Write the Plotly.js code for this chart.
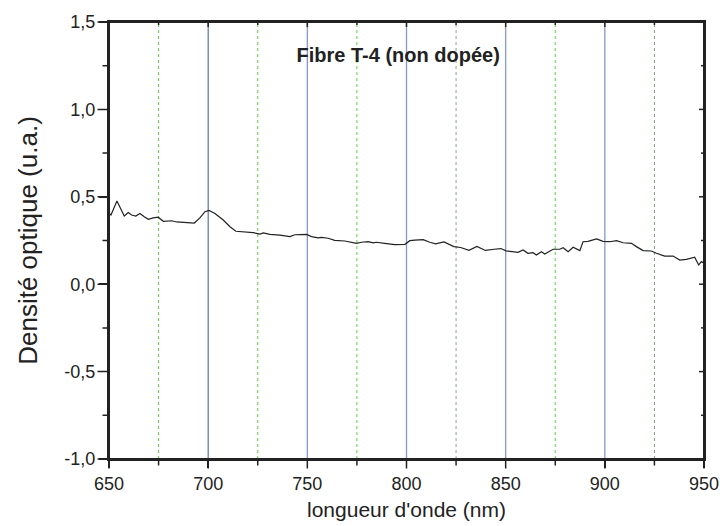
<!DOCTYPE html>
<html>
<head>
<meta charset="utf-8">
<script src="https://cdn.plot.ly/plotly-3.0.1.min.js"></script>
<style>html,body{margin:0;padding:0;background:#fff;}#chart{width:720px;height:526px;}</style>
</head>
<body>
<div id="chart"></div>
<script>
// Wavelength (nm) and optical density (a.u.)
const wavelength = [650, 651, 654, 655.5, 657.7, 659.7, 661.4, 663.5, 665.6, 667.8, 669.8, 672.3, 674.8, 677.4, 679.6, 681.6, 684.1, 688.3, 693, 695.8, 698.4, 700.4, 702.5, 703.4, 707.6, 711, 714, 717.7, 722.7, 726.1, 727.8, 731.1, 736.2, 741.2, 743.7, 749.6, 752.1, 755.5, 757.1, 760.5, 763.8, 768.9, 772.3, 774.8, 777.3, 780.6, 783.2, 784.9, 789, 794.1, 799.2, 801.7, 804.2, 808.4, 811.8, 814.7, 818.9, 823.9, 827.3, 831.5, 835.5, 839.8, 844.2, 847.6, 850.2, 856.2, 858.8, 861.2, 863.8, 865.5, 868, 869.7, 873.9, 877.3, 879, 881.5, 884, 887.4, 889, 891.5, 895.8, 899.1, 902.5, 905.9, 909.2, 913.4, 915.9, 919.3, 923.5, 926, 930.2, 934.4, 937.8, 941.1, 945.3, 947.3, 948.7, 950];
const density = [0.406, 0.396, 0.476, 0.443, 0.390, 0.410, 0.396, 0.390, 0.405, 0.386, 0.371, 0.379, 0.383, 0.360, 0.363, 0.363, 0.356, 0.354, 0.350, 0.379, 0.415, 0.422, 0.413, 0.405, 0.367, 0.329, 0.303, 0.299, 0.295, 0.287, 0.293, 0.285, 0.281, 0.272, 0.283, 0.285, 0.272, 0.265, 0.268, 0.263, 0.251, 0.247, 0.241, 0.234, 0.240, 0.243, 0.236, 0.240, 0.234, 0.226, 0.228, 0.249, 0.252, 0.255, 0.240, 0.231, 0.242, 0.215, 0.210, 0.194, 0.216, 0.193, 0.200, 0.204, 0.191, 0.182, 0.196, 0.177, 0.180, 0.167, 0.186, 0.173, 0.200, 0.200, 0.209, 0.186, 0.211, 0.192, 0.243, 0.245, 0.259, 0.245, 0.243, 0.249, 0.237, 0.234, 0.215, 0.192, 0.190, 0.177, 0.161, 0.161, 0.138, 0.142, 0.154, 0.110, 0.129, 0.120];

// Reference lines
const solidLines = [700, 750, 800, 850, 900];
const solidColors = ['#3d4fa3', '#8796cf', '#8796cf', '#8796cf', '#8796cf'];
const dottedLines = [675, 725, 775, 825, 875, 925];
const dottedColors = ['#5fcf3f', '#5fcf3f', '#5fcf3f', '#8aa88a', '#5fcf3f', '#7a9a7a'];

// Axes
const xTickVals = [650, 700, 750, 800, 850, 900, 950];
const xMinorVals = [675, 725, 775, 825, 875, 925];
const yTickVals = [-1.0, -0.5, 0.0, 0.5, 1.0, 1.5];
const yTickText = ['-1,0', '-0,5', '0,0', '0,5', '1,0', '1,5'];
const yMinorVals = [-0.75, -0.25, 0.25, 0.75, 1.25];
const xRange = [650, 950];
const yRange = [-1.0, 1.5];

const FAM = 'Liberation Sans';
const INK = '#222222';
const PLOT_W = 595, PLOT_H = 437;

const shapes = [];
solidLines.forEach((v, i) => shapes.push({type: 'line', xref: 'x', yref: 'paper', x0: v, x1: v, y0: 0, y1: 1, line: {color: solidColors[i], width: i === 0 ? 1 : 1.3}, layer: 'below'}));
dottedLines.forEach((v, i) => shapes.push({type: 'line', xref: 'x', yref: 'paper', x0: v, x1: v, y0: 0, y1: 1, line: {color: dottedColors[i], width: 1, dash: 'dot'}, layer: 'below'}));
// inside ticks on top / right
xTickVals.concat(xMinorVals).forEach((v, i) => {
  const len = i < xTickVals.length ? 5 : 3;
  shapes.push({type: 'line', xref: 'x', yref: 'paper', x0: v, x1: v, y0: 1, y1: 1 - len / PLOT_H, line: {color: INK, width: 1.5}, layer: 'above'});
});
yTickVals.concat(yMinorVals).forEach((v, i) => {
  const len = i < yTickVals.length ? 5 : 3;
  shapes.push({type: 'line', xref: 'paper', yref: 'y', x0: 1, x1: 1 - len / PLOT_W, y0: v, y1: v, line: {color: INK, width: 1.5}, layer: 'above'});
});
// frame
shapes.push({type: 'rect', xref: 'paper', yref: 'paper', x0: 0, x1: 1, y0: 0, y1: 1, line: {color: INK, width: 2}, fillcolor: 'rgba(0,0,0,0)', layer: 'above'});

// outside ticks on bottom / left, drawn as head-less annotation arrows
// (long arrow trimmed at its tail so only the tick length is drawn)
const STEM = 30;
const annotations = [];
function stem(len, extra) {
  return Object.assign({text: '', showarrow: true, arrowhead: 0, arrowwidth: 1.5, arrowcolor: INK, standoff: 0, startstandoff: Math.max(0, STEM - 4 - len)}, extra);
}
xTickVals.forEach(v => annotations.push(stem(7, {xref: 'x', yref: 'paper', x: v, y: 0, ax: 0, ay: STEM})));
xMinorVals.forEach(v => annotations.push(stem(4, {xref: 'x', yref: 'paper', x: v, y: 0, ax: 0, ay: STEM})));
yTickVals.forEach(v => annotations.push(stem(9, {xref: 'paper', yref: 'y', x: 0, y: v, ax: -STEM, ay: 0})));
yMinorVals.forEach(v => annotations.push(stem(4, {xref: 'paper', yref: 'y', x: 0, y: v, ax: -STEM, ay: 0})));

const data = [
  {x: wavelength, y: density, type: 'scatter', mode: 'lines', line: {color: INK, width: 1.2}, showlegend: false, hoverinfo: 'skip'}
];

const layout = {
  width: 720, height: 526,
  margin: {l: 109, r: 16, t: 22, b: 67},
  paper_bgcolor: '#ffffff', plot_bgcolor: '#ffffff',
  font: {family: FAM, color: INK},
  title: {text: '<b>Fibre T-4 (non dopée)</b>', font: {family: FAM, size: 20, color: INK}, xref: 'paper', x: 0.486, xanchor: 'center', yref: 'container', y: 0.895, yanchor: 'middle'},
  xaxis: {
    range: xRange, tickmode: 'array', tickvals: xTickVals, ticks: 'outside', ticklen: 7, tickwidth: 1.5, tickcolor: INK,
    showline: true, linecolor: INK, linewidth: 2, mirror: true, showgrid: false, zeroline: false,
    tickfont: {size: 18, family: FAM, color: INK},
    title: {text: "longueur d'onde (nm)", font: {size: 21, family: FAM, color: INK}, standoff: 10}
  },
  yaxis: {
    range: yRange, tickmode: 'array', tickvals: yTickVals, ticktext: yTickText, ticks: 'outside', ticklen: 8, tickwidth: 1.5, tickcolor: INK,
    showline: true, linecolor: INK, linewidth: 2, mirror: true, showgrid: false, zeroline: false,
    tickfont: {size: 18, family: FAM, color: INK},
    title: {text: 'Densité optique (u.a.)', font: {size: 26, family: FAM, color: INK}, standoff: 19}
  },
  shapes: shapes,
  annotations: annotations
};

Plotly.newPlot('chart', data, layout, {displayModeBar: false, staticPlot: true});
</script>
</body>
</html>
